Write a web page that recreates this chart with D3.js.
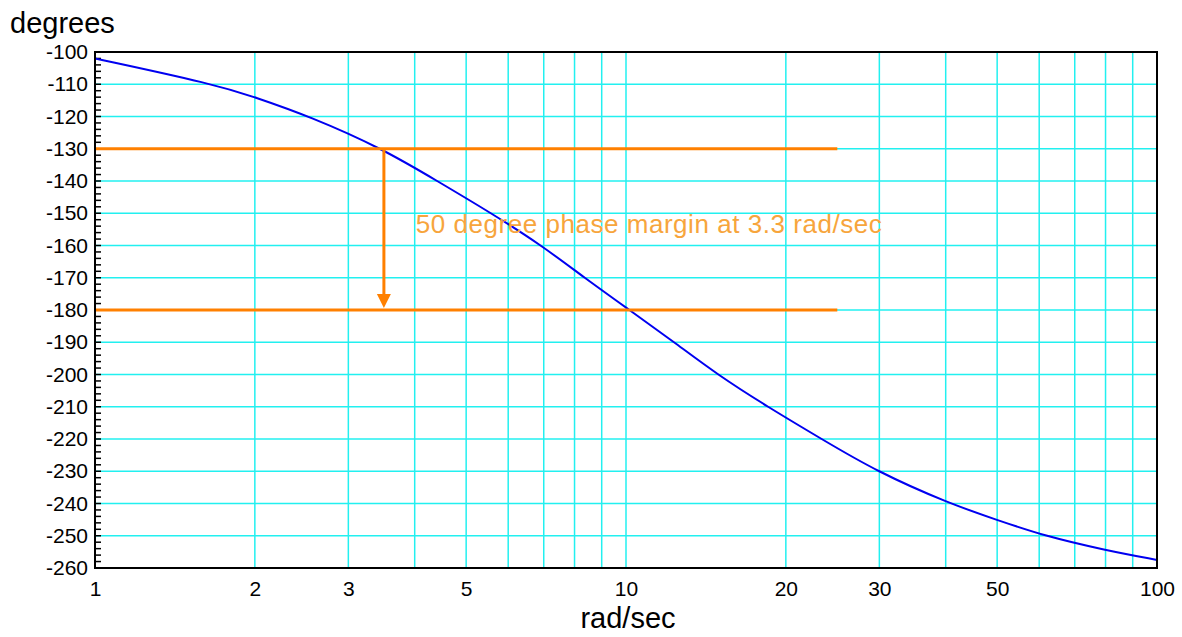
<!DOCTYPE html>
<html lang="en">
<head>
    <meta charset="UTF-8">
    <title>Phase plot</title>
    <script src="https://cdn.jsdelivr.net/npm/d3@7"></script>
    <style>
        body {
            margin: 0;
            background: #fff;
        }

        svg {
            font-family: "Liberation Sans", Arial, sans-serif;
        }

        .grid {
            stroke: #22f0f0;
            stroke-width: 1.5px;
        }

        .minor {
            stroke: #000;
            stroke-width: 1.5px;
        }

        .phase {
            fill: none;
            stroke: #0000f0;
            stroke-width: 2px;
        }

        .margin {
            stroke: #ff8000;
            stroke-width: 3px;
        }
    </style>
</head>
<body>
<svg width="1182" height="637"></svg>

<script>

    // curve: frequency (rad/sec) and phase (degrees)
    var freq = [1, 1.68, 2, 2.54, 3.48, 4.41, 5.58, 6.94, 8.35, 10.15, 12.33, 14.85, 18.47, 23.35, 29.6, 40.6, 50, 61.2, 80, 100];
    var phase = [-102, -110, -114, -120, -130, -140, -150, -160, -170, -180, -190, -200, -210, -220, -230, -240, -245.1, -250, -254.5, -257.5];

    var xTicks = [1, 2, 3, 5, 10, 20, 30, 50, 100];
    var xGrid = [2, 3, 4, 5, 6, 7, 8, 9, 10, 20, 30, 40, 50, 60, 70, 80, 90];
    var yTicks = d3.range(-100, -261, -10);
    var yMinor = d3.range(-100, -261, -2);

    // margin annotation
    var marginLevels = [-130, -180];
    var marginFreq = 3.5;
    var marginEnd = 25;
    var note = '50 degree phase margin at 3.3 rad/sec';

    var svg = d3.select('svg');

    var pLeft = 95, pRight = 1157, pTop = 52, pBottom = 568;

    var x = d3.scaleLog().domain([1, 100]).range([pLeft, pRight]);
    var y = d3.scaleLinear().domain([-100, -260]).range([pTop, pBottom]);

    // grid
    svg.append('g').selectAll('line')
        .data(xGrid)
        .enter()
        .append('line')
        .attr('class', 'grid')
        .attr('x1', function (d) { return x(d); })
        .attr('x2', function (d) { return x(d); })
        .attr('y1', pTop)
        .attr('y2', pBottom);

    svg.append('g').selectAll('line')
        .data(yTicks.slice(1, -1))
        .enter()
        .append('line')
        .attr('class', 'grid')
        .attr('x1', pLeft)
        .attr('x2', pRight)
        .attr('y1', function (d) { return y(d); })
        .attr('y2', function (d) { return y(d); });

    // minor ticks on the left edge
    svg.append('g').selectAll('line')
        .data(yMinor)
        .enter()
        .append('line')
        .attr('class', 'minor')
        .attr('x1', pLeft)
        .attr('x2', pLeft + 6)
        .attr('y1', function (d) { return y(d); })
        .attr('y2', function (d) { return y(d); });

    // curve
    var points = freq.map(function (f, i) {
        return [f, phase[i]];
    });

    var line = d3.line()
        .x(function (d) { return x(d[0]); })
        .y(function (d) { return y(d[1]); })
        .curve(d3.curveBasis);

    svg.append('path')
        .datum(points)
        .attr('class', 'phase')
        .attr('d', line);

    // margin lines
    svg.append('g').selectAll('line')
        .data(marginLevels)
        .enter()
        .append('line')
        .attr('class', 'margin')
        .attr('x1', pLeft)
        .attr('x2', x(marginEnd))
        .attr('y1', function (d) { return y(d); })
        .attr('y2', function (d) { return y(d); });

    var ax = x(marginFreq);
    var tipY = y(marginLevels[1]) - 2;
    svg.append('line')
        .attr('class', 'margin')
        .attr('x1', ax)
        .attr('x2', ax)
        .attr('y1', y(marginLevels[0]))
        .attr('y2', tipY - 12);

    svg.append('path')
        .attr('fill', '#ff8000')
        .attr('d', 'M' + (ax - 7) + ',' + (tipY - 14) + 'L' + (ax + 7) + ',' + (tipY - 14) + 'L' + ax + ',' + tipY + 'Z');

    svg.append('text')
        .attr('x', x(4) + 1)
        .attr('y', y(-156))
        .attr('fill', '#f7a53c')
        .style('font-size', '26px')
        .attr('textLength', 466)
        .text(note);

    // frame
    svg.append('rect')
        .attr('x', pLeft)
        .attr('y', pTop)
        .attr('width', pRight - pLeft)
        .attr('height', pBottom - pTop)
        .attr('fill', 'none')
        .attr('stroke', '#000')
        .attr('stroke-width', 2);

    // axes labels
    var xAxis = svg.append('g')
        .attr('transform', 'translate(0,' + pBottom + ')')
        .call(d3.axisBottom(x).tickValues(xTicks).tickSize(0).tickPadding(13).tickFormat(d3.format('d')));
    xAxis.select('.domain').remove();
    xAxis.selectAll('text')
        .style('font-size', '21px')
        .style('font-family', '"Liberation Sans", Arial, sans-serif')
        .attr('fill', '#000');

    var yAxis = svg.append('g')
        .attr('transform', 'translate(' + pLeft + ',0)')
        .call(d3.axisLeft(y).tickValues(yTicks).tickSize(0).tickPadding(7).tickFormat(d3.format('d')));
    yAxis.select('.domain').remove();
    yAxis.selectAll('text')
        .style('font-size', '21px')
        .style('font-family', '"Liberation Sans", Arial, sans-serif')
        .attr('fill', '#000')
        .text(function (d) { return String(d); });

    svg.append('text')
        .attr('x', 10)
        .attr('y', 33)
        .style('font-size', '29px')
        .text('degrees');

    svg.append('text')
        .attr('x', 628)
        .attr('y', 628)
        .attr('text-anchor', 'middle')
        .style('font-size', '29px')
        .text('rad/sec');

</script>

</body>
</html>
